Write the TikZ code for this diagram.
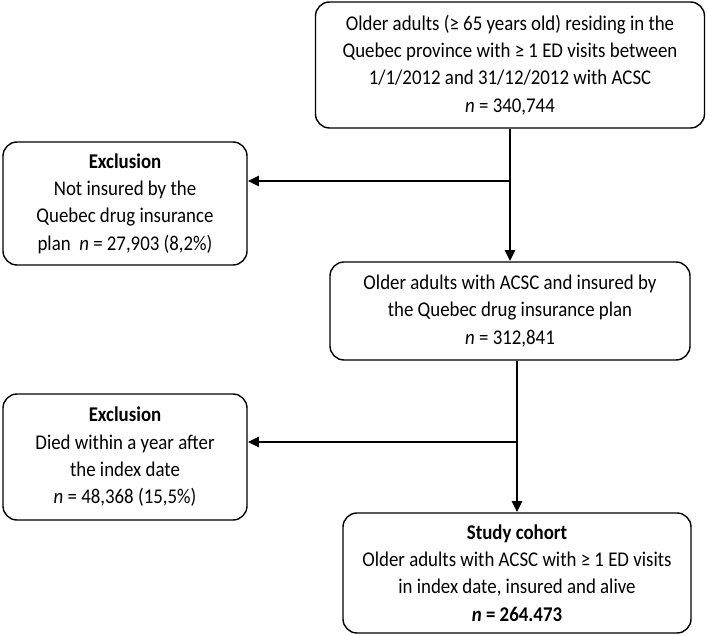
\documentclass[tikz,border=0pt]{standalone}
\usepackage{fontspec}
\setmainfont[FakeStretch=0.9]{Carlito}
\usetikzlibrary{arrows.meta}
\begin{document}
\begin{tikzpicture}[x=0.025cm,y=-0.025cm,
  box/.style={draw,line width=1pt,rounded corners=10pt,align=center,inner sep=0pt,
    font=\fontsize{14.9}{19.4}\selectfont},
  flow/.style={line width=2.1pt,-{Triangle[length=8pt,width=7pt]}}]
\useasboundingbox (0,0) rectangle (709,635);

\node (older) at (510,65) [box,minimum width=389*0.025cm,minimum height=126*0.025cm]
  {Older adults (≥ 65 years old) residing in the\\Quebec province with ≥ 1 ED visits between\\1/1/2012 and 31/12/2012 with ACSC\\\textit{n} = 340,744};

\node (exclA) at (125,203.5) [box,minimum width=244*0.025cm,minimum height=123*0.025cm]
  {\textbf{Exclusion}\\Not insured by the\\Quebec drug insurance\\plan~~\textit{n} = 27,903 (8,2\%)};

\node (insured) at (510,311) [box,minimum width=360*0.025cm,minimum height=98*0.025cm]
  {Older adults with ACSC and insured by\\the Quebec drug insurance plan\\\textit{n} = 312,841};

\node (exclB) at (125,457) [box,minimum width=244*0.025cm,minimum height=126*0.025cm]
  {\textbf{Exclusion}\\Died within a year after\\the index date\\\textit{n} = 48,368 (15,5\%)};

\node (cohort) at (517,573) [box,minimum width=348*0.025cm,minimum height=120*0.025cm]
  {\textbf{Study cohort}\\Older adults with ACSC with ≥ 1 ED visits\\in index date, insured and alive\\\textbf{\textit{n} = 264.473}};

\coordinate (splitA) at (510,181);
\coordinate (splitB) at (517,442);

\draw[flow] (older.south) -- (insured.north);
\draw[flow] (splitA) -- (splitA -| exclA.east);
\draw[flow] (cohort.north |- insured.south) -- (cohort.north);
\draw[flow] (splitB) -- (splitB -| exclB.east);

\end{tikzpicture}
\end{document}
